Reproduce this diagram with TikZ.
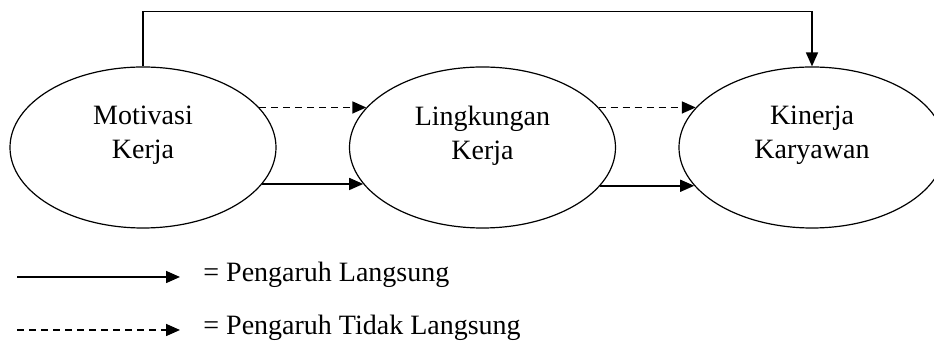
\documentclass[tikz,border=0pt]{standalone}
\usepackage{fontspec}
\setmainfont{Liberation Serif}
\usetikzlibrary{arrows.meta, positioning, shapes.geometric}

\tikzset{
  oval/.style={draw, ellipse, line width=0.6pt, minimum width=133pt, minimum height=80.5pt, inner sep=0pt},
  lbl/.style={align=center, font=\fontsize{14}{17}\selectfont},
  conn/.style={-{Triangle[length=7pt, width=6pt]}, line width=0.8pt},
  tdk/.style={conn, dash pattern=on 3.5pt off 2.5pt},
}

\begin{document}
\begin{tikzpicture}[x=0.5pt, y=-0.5pt]
    \useasboundingbox (0,0) rectangle (934,341);

    % variabel
    \node[oval] (mk) at (143,147.5) {};
    \node[oval] (lk) at (482.5,147.5) {};
    \node[oval] (kk) at (812,147.5) {};
    \node[lbl] (mk-t) at ([yshift=6pt]mk.center) {Motivasi\\Kerja};
    \node[lbl] (lk-t) at ([yshift=6pt]lk.center) {Lingkungan\\Kerja};
    \node[lbl] (kk-t) at ([yshift=6pt]kk.center) {Kinerja\\Karyawan};

    % pengaruh langsung
    \draw[conn] (mk.north) -- ++(0,-55) -| (kk.north);
    \draw[conn] (mk.343) -- (mk.343 -| lk.197);
    \draw[conn] (lk.342) -- (lk.342 -| kk.198);

    % pengaruh tidak langsung
    \draw[tdk] (mk.19) -- (mk.19 -| lk.161);
    \draw[tdk] (lk.19) -- (lk.19 -| kk.161);

    % keterangan
    \coordinate (ls-a) at (17,277);
    \coordinate (ls-b) at (180,277);
    \draw[conn] (ls-a) -- (ls-b);
    \node[lbl, inner sep=0pt, anchor=base west] (ls) at (203,282) {= Pengaruh Langsung};

    \coordinate (tl-a) at (17,330);
    \coordinate (tl-b) at (180,330);
    \draw[tdk] (tl-a) -- (tl-b);
    \node[lbl, inner sep=0pt, anchor=base west] (tl) at (203,335) {= Pengaruh Tidak Langsung};
\end{tikzpicture}
\end{document}
